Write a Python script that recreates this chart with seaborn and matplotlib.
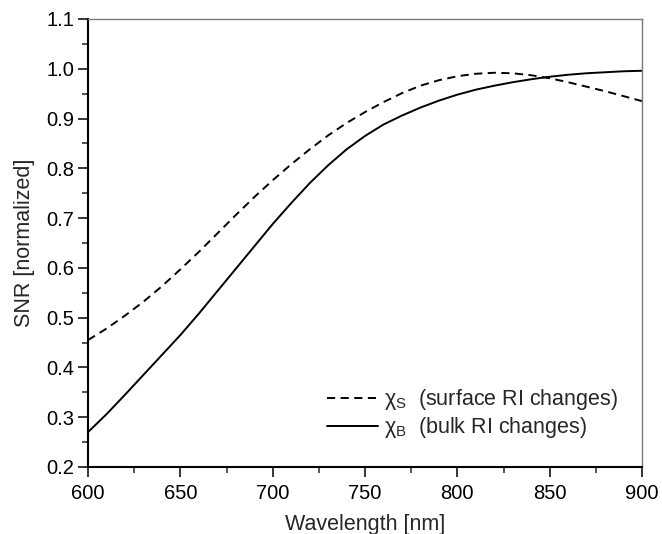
import matplotlib
matplotlib.use("Agg")
import matplotlib.pyplot as plt
from matplotlib.ticker import MultipleLocator, FormatStrFormatter
import seaborn as sns
import pandas as pd

# Wavelength grid [nm]
wavelength = [600, 610, 620, 630, 640, 650, 660, 670, 680, 690, 700,
              710, 720, 730, 740, 750, 760, 770, 780, 790, 800,
              810, 820, 830, 840, 850, 860, 870, 880, 890, 900]

# Normalized SNR for surface refractive-index changes
snr_surface = [0.455, 0.478, 0.504, 0.532, 0.563, 0.597, 0.632, 0.669, 0.706, 0.742, 0.776,
               0.808, 0.838, 0.866, 0.891, 0.913, 0.933, 0.951, 0.966, 0.977, 0.985,
               0.990, 0.992, 0.991, 0.987, 0.981, 0.973, 0.964, 0.955, 0.945, 0.935]

# Normalized SNR for bulk refractive-index changes
snr_bulk = [0.270, 0.306, 0.345, 0.385, 0.425, 0.465, 0.508, 0.553, 0.598, 0.643, 0.688,
            0.730, 0.770, 0.806, 0.838, 0.865, 0.888, 0.906, 0.922, 0.936, 0.948,
            0.958, 0.966, 0.973, 0.979, 0.984, 0.988, 0.991, 0.993, 0.995, 0.996]

label_surface = "χ$_\\mathrm{S}$  (surface RI changes)"
label_bulk = "χ$_\\mathrm{B}$  (bulk RI changes)"

sns.set_style("ticks")
plt.rcParams["font.family"] = ["Liberation Sans", "DejaVu Sans"]
plt.rcParams["mathtext.fontset"] = "custom"
plt.rcParams["mathtext.rm"] = "Liberation Sans"
plt.rcParams["mathtext.it"] = "Liberation Sans:italic"
plt.rcParams["mathtext.sf"] = "Liberation Sans"

df = pd.DataFrame({
    "wavelength": wavelength * 2,
    "snr": snr_surface + snr_bulk,
    "series": [label_surface] * len(wavelength) + [label_bulk] * len(wavelength),
})

fig = plt.figure(figsize=(6.62, 5.34), dpi=100)
ax = fig.add_axes([88 / 662, 1 - 467 / 534, (642 - 88) / 662, (467 - 19) / 534])

sns.lineplot(data=df, x="wavelength", y="snr", hue="series", style="series",
             palette=["black", "black"],
             dashes={label_surface: (4.2, 2.8), label_bulk: ""},
             linewidth=1.4, ax=ax)

ax.set_xlim(600, 900)
ax.set_ylim(0.2, 1.1)
ax.xaxis.set_major_locator(MultipleLocator(50))
ax.xaxis.set_minor_locator(MultipleLocator(25))
ax.yaxis.set_major_locator(MultipleLocator(0.1))
ax.yaxis.set_minor_locator(MultipleLocator(0.05))
ax.yaxis.set_major_formatter(FormatStrFormatter("%.1f"))

ax.tick_params(which="major", direction="out", length=7, width=1.1,
               labelsize=14.5, colors="black")
ax.tick_params(which="minor", direction="out", length=4, width=1.1)
ax.tick_params(axis="x", which="major", pad=5.5)
ax.tick_params(axis="y", which="major", pad=3)
ax.tick_params(top=False, right=False, which="both")

for side in ("left", "bottom"):
    ax.spines[side].set_color("black")
    ax.spines[side].set_linewidth(1.5)
for side in ("top", "right"):
    ax.spines[side].set_visible(True)
    ax.spines[side].set_color("#7a7a7a")
    ax.spines[side].set_linewidth(1.0)

ax.set_xlabel("Wavelength [nm]", fontsize=15.5, labelpad=7.5)
ax.set_ylabel("SNR [normalized]", fontsize=15.5, labelpad=8)

leg = ax.legend(loc="lower right", frameon=False, fontsize=15.5,
                handlelength=2.4, handletextpad=0.25, labelspacing=0.15,
                borderaxespad=0.0, bbox_to_anchor=(0.9724, 0.040))
for line in leg.get_lines():
    line.set_linewidth(1.4)

fig.savefig("out.png", dpi=100)
